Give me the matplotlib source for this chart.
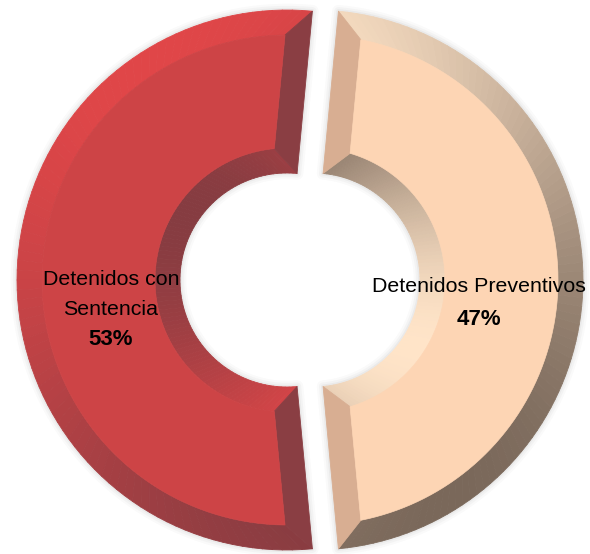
import numpy as np
import matplotlib
matplotlib.use("Agg")
import matplotlib.pyplot as plt
from matplotlib.collections import PolyCollection
from matplotlib.patches import Polygon

# data
categories = ["Detenidos Preventivos", "Detenidos con Sentencia"]
values = [47, 53]
pct_labels = ["47%", "53%"]
label_lines = [["Detenidos Preventivos"], ["Detenidos con", "Sentencia"]]

face_colors = ["#fdd5b4", "#cd4446"]
light_colors = [(255, 228, 200), (224, 70, 72)]
dark_colors = [(122, 104, 90), (134, 60, 65)]
end_colors = ["#d8ae92", "#8a3e43"]

# geometry in pixels (image coords, y down)
CX, CY = 300, 280
R_OUT, R_IN = 270, 107
BEVEL = 25
EXPLODE = 13
N = 90
L_OUT = np.array([-0.5, 0.87])
L_IN = np.array([-0.8, 0.6])


def shade(i, n, light):
    light = light / np.linalg.norm(light)
    t = np.clip(0.5 + 0.5 * np.dot(n, light), 0, 1)
    lo = np.array(dark_colors[i]) / 255
    hi = np.array(light_colors[i]) / 255
    return tuple(lo + (hi - lo) * t)


fig = plt.figure(figsize=(5.9, 5.54), dpi=100)
ax = fig.add_axes([0, 0, 1, 1])
ax.set_xlim(0, 590)
ax.set_ylim(554, 0)
ax.axis("off")

total = sum(values)
start = -np.pi * values[0] / total  # first slice centred on the right

for i, v in enumerate(values):
    span = 2 * np.pi * v / total
    t1, t2 = start, start + span
    start = t2
    mid = (t1 + t2) / 2
    ox = CX + EXPLODE * np.cos(mid)
    oy = CY - EXPLODE * np.sin(mid)

    def pt(rho, a):
        return (ox + rho * np.cos(a), oy - rho * np.sin(a))

    do = np.arcsin(BEVEL / (R_OUT - BEVEL))
    di = np.arcsin(BEVEL / (R_IN + BEVEL))
    a = np.linspace(t1, t2, N + 1)
    co = np.linspace(t1 + do, t2 - do, N + 1)
    ci = np.linspace(t1 + di, t2 - di, N + 1)

    # soft shadow
    outline = [pt(R_OUT, x) for x in a] + [pt(R_IN, x) for x in a[::-1]]
    for lw, al in [(9, 0.03), (6, 0.04), (3, 0.06)]:
        ax.add_patch(Polygon(outline, closed=True, fill=False,
                             edgecolor="#606060", lw=lw, alpha=al,
                             joinstyle="round", zorder=1))

    polys, cols = [], []
    for k in range(N):
        am = (a[k] + a[k + 1]) / 2
        n = np.array([np.cos(am), np.sin(am)])
        polys.append([pt(R_OUT, a[k]), pt(R_OUT, a[k + 1]),
                      pt(R_OUT - BEVEL, co[k + 1]), pt(R_OUT - BEVEL, co[k])])
        cols.append(shade(i, n, L_OUT))
        polys.append([pt(R_IN, a[k]), pt(R_IN, a[k + 1]),
                      pt(R_IN + BEVEL, ci[k + 1]), pt(R_IN + BEVEL, ci[k])])
        cols.append(shade(i, -n, L_IN))

    # end bevels
    polys.append([pt(R_OUT, t1), pt(R_OUT - BEVEL, t1 + do),
                  pt(R_IN + BEVEL, t1 + di), pt(R_IN, t1)])
    cols.append(end_colors[i])
    polys.append([pt(R_OUT, t2), pt(R_OUT - BEVEL, t2 - do),
                  pt(R_IN + BEVEL, t2 - di), pt(R_IN, t2)])
    cols.append(end_colors[i])

    ax.add_collection(PolyCollection(polys, facecolors=cols, edgecolors=cols,
                                     linewidths=0.6, zorder=2))

    face = [pt(R_OUT - BEVEL, x) for x in co] + [pt(R_IN + BEVEL, x) for x in ci[::-1]]
    ax.add_patch(Polygon(face, closed=True, facecolor=face_colors[i],
                         edgecolor=face_colors[i], lw=0.5, zorder=3))

# labels
font = ["Liberation Sans", "DejaVu Sans"]
label_pos = [(479, 292), (111, 285)]  # centre x, first baseline y
line_gap = [33, 30]
for i in range(len(values)):
    x, y = label_pos[i]
    for j, line in enumerate(label_lines[i]):
        ax.text(x, y + j * line_gap[i], line, ha="center", va="baseline",
                fontsize=15.4, family=font, color="black", zorder=5)
    ax.text(x, y + len(label_lines[i]) * line_gap[i], pct_labels[i],
            ha="center", va="baseline", fontsize=16, family=font,
            fontweight="bold", color="black", zorder=5)

fig.savefig("out.png", dpi=100, facecolor="white")
